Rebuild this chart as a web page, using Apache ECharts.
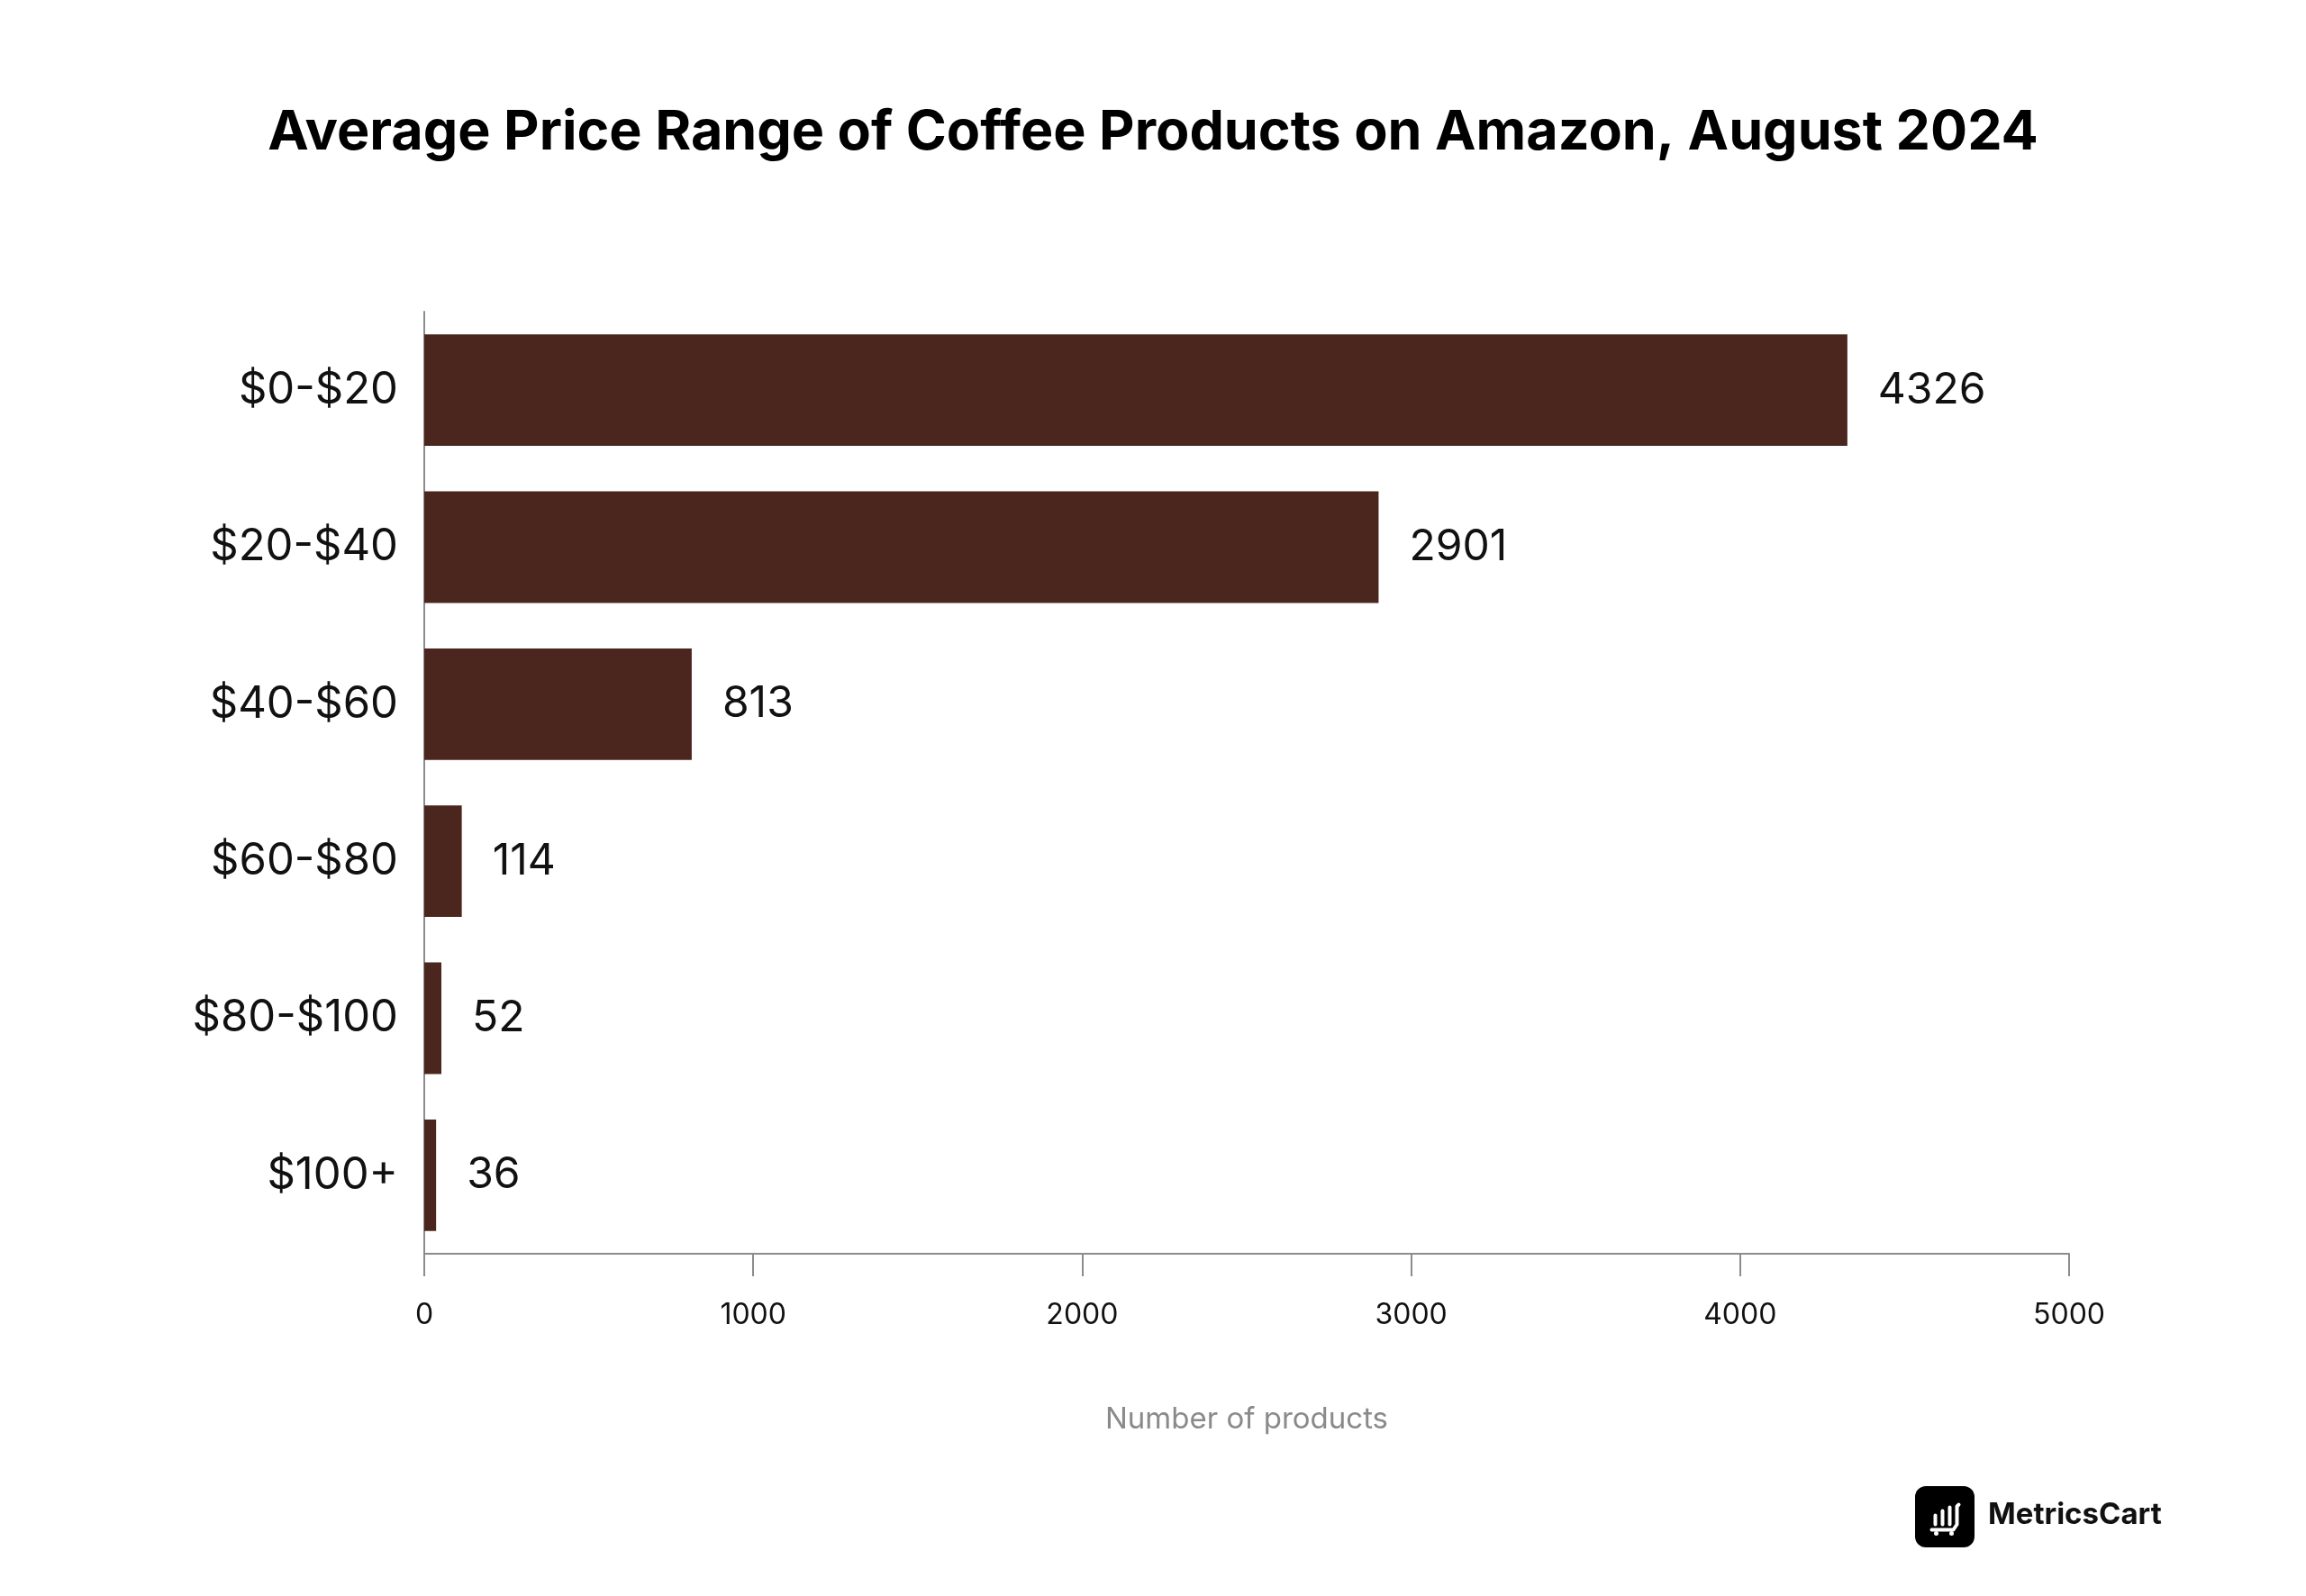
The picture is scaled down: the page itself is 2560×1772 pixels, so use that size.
<!DOCTYPE html>
<html>
<head>
<meta charset="utf-8">
<script src="https://cdn.jsdelivr.net/npm/echarts@6/dist/echarts.min.js"></script>
<style>
html,body{margin:0;padding:0;background:#fff;}
#chart{width:2560px;height:1772px;}
</style>
</head>
<body>
<div id="chart"></div>
<script>
const categories = ["$0-$20", "$20-$40", "$40-$60", "$60-$80", "$80-$100", "$100+"];
const productCounts = [4326, 2901, 813, 114, 52, 36];
const xTicks = { min: 0, max: 5000, interval: 1000 };

const chart = echarts.init(document.getElementById('chart'));
const option = {
  backgroundColor: '#ffffff',
  animation: false,
  title: {
    text: 'Average Price Range of Coffee Products on Amazon, August 2024',
    left: 'center',
    top: 112,
    textStyle: { fontFamily: 'Inter, "Noto Sans", sans-serif', fontWeight: 'bold', fontSize: 61, color: '#000' }
  },
  grid: { left: 471, right: 263, top: 346, bottom: 380, containLabel: false },
  xAxis: {
    type: 'value',
    min: xTicks.min, max: xTicks.max, interval: xTicks.interval,
    splitLine: { show: false },
    axisLine: { show: true, lineStyle: { color: '#8c8c8c', width: 2 } },
    axisTick: { show: true, length: 25, lineStyle: { color: '#8c8c8c', width: 2 } },
    axisLabel: { fontSize: 32, color: '#111', margin: 52, fontFamily: 'Inter, sans-serif', formatter: function (v) { return String(v); } },
    name: 'Number of products',
    nameLocation: 'middle',
    nameGap: 168,
    nameTextStyle: { fontSize: 33, color: '#8a8a8a', fontFamily: 'Inter, sans-serif' }
  },
  yAxis: {
    type: 'category',
    inverse: true,
    data: categories,
    axisLine: { show: true, lineStyle: { color: '#8c8c8c', width: 2 } },
    axisTick: { show: false },
    axisLabel: { fontSize: 49, color: '#111', margin: 29, fontFamily: 'Inter, sans-serif' }
  },
  series: [{
    type: 'bar',
    data: productCounts,
    barWidth: '71%',
    itemStyle: { color: '#4b261f' },
    label: { show: true, position: 'right', distance: 34, fontSize: 48, color: '#111', fontFamily: 'Inter, sans-serif' }
  }],
  graphic: [
    { type: 'rect', left: 2126, top: 1650, shape: { width: 66, height: 68, r: 12 }, style: { fill: '#000' } },
    { type: 'group', left: 2142, top: 1668, children: [
      { type: 'line', shape: { x1: 4, y1: 14, x2: 4, y2: 24 }, style: { stroke: '#fff', lineWidth: 4, lineCap: 'round' } },
      { type: 'line', shape: { x1: 12, y1: 9, x2: 12, y2: 24 }, style: { stroke: '#fff', lineWidth: 4, lineCap: 'round' } },
      { type: 'line', shape: { x1: 20, y1: 5, x2: 20, y2: 24 }, style: { stroke: '#fff', lineWidth: 4, lineCap: 'round' } },
      { type: 'polyline', shape: { points: [[30, 2], [28, 4], [28, 24], [24, 30], [0, 30]] }, style: { stroke: '#fff', lineWidth: 4, fill: null, lineCap: 'round', lineJoin: 'round' } },
      { type: 'circle', shape: { cx: 5, cy: 34, r: 2.5 }, style: { fill: '#fff' } },
      { type: 'circle', shape: { cx: 22, cy: 34, r: 2.5 }, style: { fill: '#fff' } }
    ]},
    { type: 'text', left: 2207, top: 1666, style: { text: 'MetricsCart', fontSize: 33, fontWeight: 'bold', fill: '#111', fontFamily: 'Inter, sans-serif' } }
  ]
};
chart.setOption(option);
</script>
</body>
</html>
